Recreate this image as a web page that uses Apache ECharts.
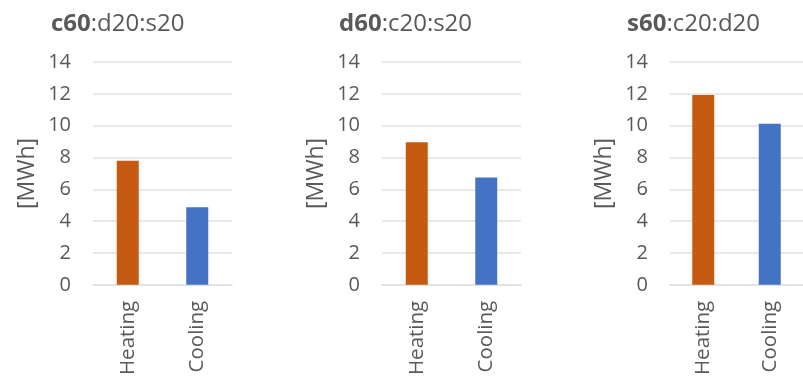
<!DOCTYPE html>
<html>
<head>
<meta charset="utf-8">
<script src="https://cdn.jsdelivr.net/npm/echarts@6/dist/echarts.min.js"></script>
<style>
  html, body { margin: 0; padding: 0; background: #fff; }
  #chart { width: 803px; height: 378px; }
</style>
</head>
<body>
<div id="chart"></div>
<script>
// Annual energy demand per mix scenario
const categories = ['Heating', 'Cooling'];
const scenarioBold = ['c60', 'd60', 's60'];
const scenarioRest = [':d20:s20', ':c20:s20', ':c20:d20'];
const heatingMWh = [7.8, 8.95, 11.92];
const coolingMWh = [4.88, 6.75, 10.12];
const yTicks = [0, 2, 4, 6, 8, 10, 12, 14];

const FONT = '"Open Sans", sans-serif';
const TEXT = '#595959';
const GRID_LINE = '#E0E0E0';
const HEAT = '#C55A11';
const COOL = '#4472C4';

const gridLefts = [93, 382, 670];
const titleLefts = [46, 334, 622];

const grids = [], xAxes = [], yAxes = [], series = [], titles = [];
gridLefts.forEach((left, i) => {
  grids.push({ left: left, top: 62, width: 139, height: 224, containLabel: false });
  xAxes.push({
    type: 'category', gridIndex: i, data: categories,
    axisLine: { lineStyle: { color: GRID_LINE, width: 1.6 } },
    axisTick: { show: false },
    axisLabel: { rotate: 90, margin: 16, color: TEXT, fontSize: 20.5, fontFamily: FONT }
  });
  yAxes.push({
    type: 'value', gridIndex: i, min: yTicks[0], max: yTicks[yTicks.length - 1], interval: 2,
    name: '[MWh]', nameLocation: 'middle', nameRotate: 90, nameGap: 54,
    nameTextStyle: { color: TEXT, fontSize: 23, fontFamily: FONT },
    axisLine: { show: false }, axisTick: { show: false },
    axisLabel: { margin: 22, color: TEXT, fontSize: 20, fontFamily: FONT },
    splitLine: { lineStyle: { color: GRID_LINE, width: 1.6 } }
  });
  series.push({
    type: 'bar', xAxisIndex: i, yAxisIndex: i, barWidth: 22,
    data: [
      { value: heatingMWh[i], itemStyle: { color: HEAT } },
      { value: coolingMWh[i], itemStyle: { color: COOL } }
    ]
  });
  titles.push({
    left: titleLefts[i], top: 7,
    text: '{b|' + scenarioBold[i] + '}{r|' + scenarioRest[i] + '}',
    textStyle: {
      rich: {
        b: { fontSize: 24, fontWeight: 'bold', color: TEXT, fontFamily: FONT },
        r: { fontSize: 24, fontWeight: 'normal', color: TEXT, fontFamily: FONT }
      }
    }
  });
});

const chart = echarts.init(document.getElementById('chart'), null, { renderer: 'canvas' });
chart.setOption({
  animation: false,
  backgroundColor: '#ffffff',
  title: titles,
  grid: grids,
  xAxis: xAxes,
  yAxis: yAxes,
  series: series
});
</script>
</body>
</html>
